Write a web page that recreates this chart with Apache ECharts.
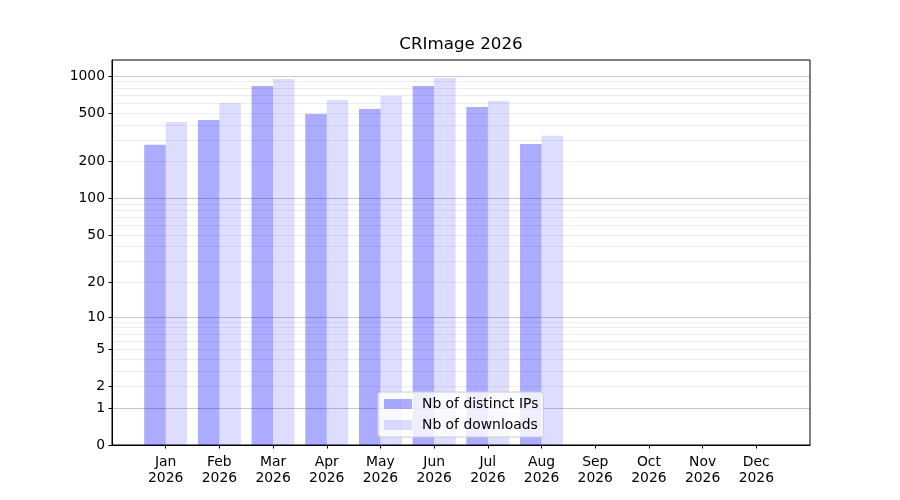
<!DOCTYPE html>
<html>
<head>
<meta charset="utf-8">
<title>CRImage 2026</title>
<script src="https://cdn.jsdelivr.net/npm/echarts@6/dist/echarts.min.js"></script>
<style>
    html, body { margin: 0; padding: 0; background: #fff; }
    #chart { width: 900px; height: 500px; }
</style>
</head>
<body>
<div id="chart"></div>
<script>
const year = 2026;
const months = ['Jan', 'Feb', 'Mar', 'Apr', 'May', 'Jun', 'Jul', 'Aug', 'Sep', 'Oct', 'Nov', 'Dec'];
const distinctIPs = [275, 438, 829, 490, 539, 829, 559, 279, null, null, null, null];
const downloads = [422, 603, 945, 638, 691, 963, 626, 325, null, null, null, null];

// y tick labels and grid lines, in data units
const yTicks = [0, 1, 2, 5, 10, 20, 50, 100, 200, 500, 1000];
const majorGrid = [1, 10, 100, 1000];
const minorGrid = [2, 3, 4, 5, 6, 7, 8, 9, 20, 30, 40, 50, 60, 70, 80, 90, 200, 300, 400, 500, 600, 700, 800, 900];

const font = 'DejaVu Sans';

// the original uses a log(1 + x) scale so that 0 fits on the axis
function toAxis(v) {
    return v == null ? null : Math.log10(1 + v);
}

// empty slot on both sides, like the matplotlib margins
const categories = [''].concat(months.map(m => m + '\n' + year), ['']);
const pad = arr => [null].concat(arr.map(toAxis), [null]);

const chart = echarts.init(document.getElementById('chart'));

const hiddenAxis = (values, color) => ({
    type: 'value',
    min: 0,
    max: 3.13,
    axisLine: { show: false },
    axisLabel: { show: false },
    axisTick: { show: false, customValues: values.map(toAxis) },
    splitLine: { show: true, lineStyle: { color: color, width: 1 } }
});

const option = {
    animation: false,
    textStyle: { fontFamily: font },
    title: {
        text: 'CRImage ' + year,
        left: 461,
        textAlign: 'center',
        top: 36,
        padding: 0,
        textStyle: { fontFamily: font, fontSize: 16.7, fontWeight: 'normal', color: '#000' }
    },
    legend: {
        orient: 'vertical',
        left: 378,
        top: 392,
        selectedMode: false,
        icon: 'rect',
        itemWidth: 28,
        itemHeight: 10,
        itemGap: 5,
        padding: [4, 5, 4, 6],
        backgroundColor: 'rgba(255,255,255,0.8)',
        borderColor: '#cccccc',
        borderWidth: 1,
        borderRadius: 3,
        textStyle: { fontFamily: font, fontSize: 13.9, color: '#000', lineHeight: 16, padding: [0, 0, 0, 5] }
    },
    grid: {
        left: 112,
        right: 90,
        top: 60,
        bottom: 55,
        show: true,
        borderColor: '#000',
        borderWidth: 1
    },
    xAxis: {
        type: 'category',
        data: categories,
        boundaryGap: false,
        axisLine: { lineStyle: { color: '#000', width: 1 } },
        axisTick: {
            length: 3.5,
            interval: i => i > 0 && i < categories.length - 1,
            lineStyle: { color: '#000', width: 1 }
        },
        axisLabel: {
            interval: 0,
            margin: 9,
            fontFamily: font,
            fontSize: 13.9,
            lineHeight: 16,
            color: '#000'
        },
        splitLine: { show: false }
    },
    yAxis: [{
        type: 'value',
        min: 0,
        max: 3.13,
        axisLine: { show: true, lineStyle: { color: '#000', width: 1 } },
        axisTick: {
            show: true,
            length: 3.5,
            customValues: yTicks.map(toAxis),
            lineStyle: { color: '#000', width: 1 }
        },
        axisLabel: {
            customValues: yTicks.map(toAxis),
            margin: 7,
            fontFamily: font,
            fontSize: 13.9,
            color: '#000',
            formatter: v => String(Math.round(Math.pow(10, v) - 1))
        },
        splitLine: { show: false }
    },
        hiddenAxis(minorGrid, 'rgba(0,0,0,0.07)'),
        hiddenAxis(majorGrid, 'rgba(0,0,0,0.22)')
    ],
    series: [{
        name: 'Nb of distinct IPs',
        type: 'bar',
        data: pad(distinctIPs),
        barWidth: '40%',
        barGap: '0%',
        itemStyle: { color: 'rgba(0,0,255,0.33)' }
    }, {
        name: 'Nb of downloads',
        type: 'bar',
        data: pad(downloads),
        barWidth: '40%',
        barGap: '0%',
        itemStyle: { color: 'rgba(0,0,255,0.135)' }
    }]
};

chart.setOption(option);
</script>
</body>
</html>
